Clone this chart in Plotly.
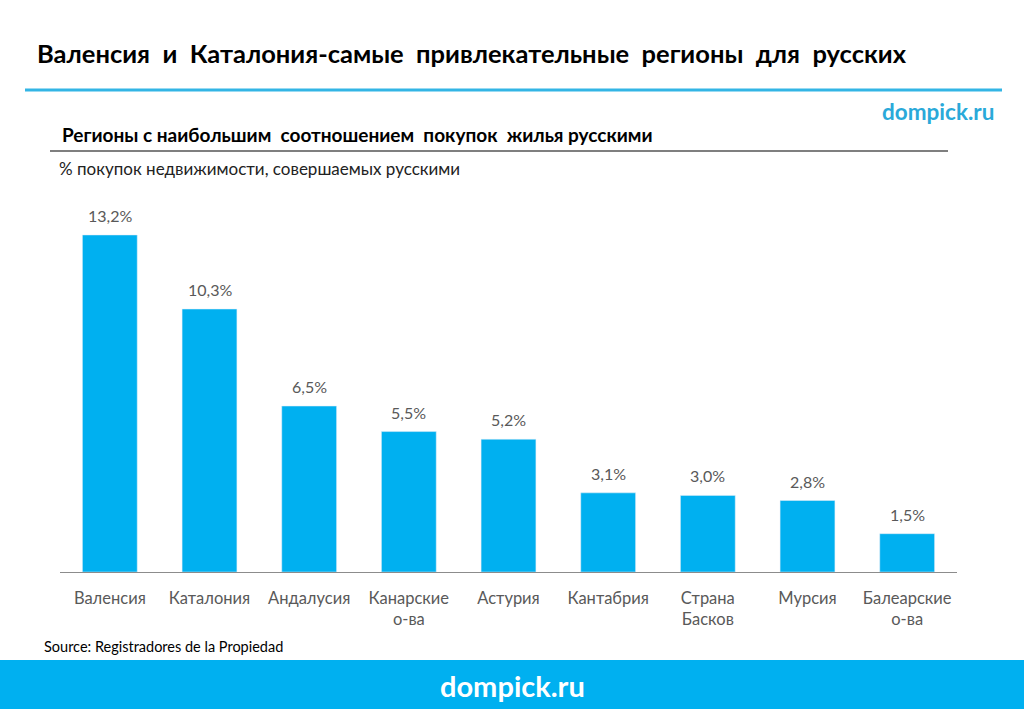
import plotly.graph_objects as go

categories = ["Валенсия", "Каталония", "Андалусия", "Канарские<br>о-ва", "Астурия",
              "Кантабрия", "Страна<br>Басков", "Мурсия", "Балеарские<br>о-ва"]
values = [13.2, 10.3, 6.5, 5.5, 5.2, 3.1, 3.0, 2.8, 1.5]
value_labels = ["13,2%", "10,3%", "6,5%", "5,5%", "5,2%", "3,1%", "3,0%", "2,8%", "1,5%"]

W, H = 1024, 709
L, R, T, B = 60, 67, 200, 137
PW, PH = W - L - R, H - T - B
FONT = "Lato, 'Open Sans', sans-serif"
BLUE = "#00B0F0"
SP = "&nbsp;"

def px(x):
    return (x - L) / PW

def py(y):
    return (H - B - y) / PH

fig = go.Figure()
fig.add_trace(go.Bar(
    x=categories, y=values, marker_color=BLUE, width=0.55,
    cliponaxis=False, hoverinfo="skip",
))

shapes = [
    dict(type="line", xref="paper", yref="paper", x0=px(25), x1=px(1002), y0=py(90), y1=py(90),
         line=dict(color="#33B5E5", width=3)),
    dict(type="line", xref="paper", yref="paper", x0=px(50), x1=px(948), y0=py(151), y1=py(151),
         line=dict(color="#555555", width=1.3)),
    dict(type="rect", xref="paper", yref="paper", x0=px(0), x1=px(W), y0=py(H), y1=py(660),
         fillcolor=BLUE, line=dict(width=0), layer="below"),
]

title = (f"Валенсия {SP}и {SP}Каталония-самые {SP}привлекательные {SP}регионы "
         f"{SP}для {SP}русских")
subtitle = f"Регионы с наибольшим {SP}соотношением {SP}покупок {SP}жилья русскими"

annotations = [
    dict(text=f"<b>{title}</b>",
         x=px(35), y=py(53), xanchor="left", yanchor="middle",
         font=dict(family=FONT, size=25.5, color="#000000")),
    dict(text="<b>dompick.ru</b>", x=px(996), y=py(111), xanchor="right", yanchor="middle",
         font=dict(family=FONT, size=22.5, color="#2AA9D9")),
    dict(text=f"<b>{subtitle}</b>",
         x=px(60), y=py(135), xanchor="left", yanchor="middle",
         font=dict(family=FONT, size=19, color="#000000")),
    dict(text="% покупок недвижимости, совершаемых русскими",
         x=px(57), y=py(168), xanchor="left", yanchor="middle",
         font=dict(family=FONT, size=17, color="#222222")),
    dict(text="Source: Registradores de la Propiedad",
         x=px(42), y=py(646), xanchor="left", yanchor="middle",
         font=dict(family=FONT, size=14.5, color="#000000")),
    dict(text="<b>dompick.ru</b>", x=px(512), y=py(685), xanchor="center", yanchor="middle",
         font=dict(family=FONT, size=29, color="#FFFFFF")),
]
for a in annotations:
    a.update(xref="paper", yref="paper", showarrow=False)

for c, v, t in zip(categories, values, value_labels):
    annotations.append(dict(x=c, y=v, xref="x", yref="y", text=t, showarrow=False,
                            yanchor="bottom", yshift=8,
                            font=dict(family=FONT, size=16, color="#595959")))

fig.update_layout(
    width=W, height=H, margin=dict(l=L, r=R, t=T, b=B, autoexpand=False),
    paper_bgcolor="#FFFFFF", plot_bgcolor="#FFFFFF",
    showlegend=False,
    shapes=shapes, annotations=annotations, bargap=0.45,
    font=dict(family=FONT),
)
fig.update_xaxes(showline=True, linecolor="#8C8C8C", linewidth=1.3, ticks="",
                 tickfont=dict(family=FONT, size=16.5, color="#595959"), ticklabelstandoff=11,
                 showgrid=False, fixedrange=True)
fig.update_yaxes(range=[0, 14.57], visible=False, showgrid=False, fixedrange=True)

fig.write_html("out.html", config={"displayModeBar": False})
